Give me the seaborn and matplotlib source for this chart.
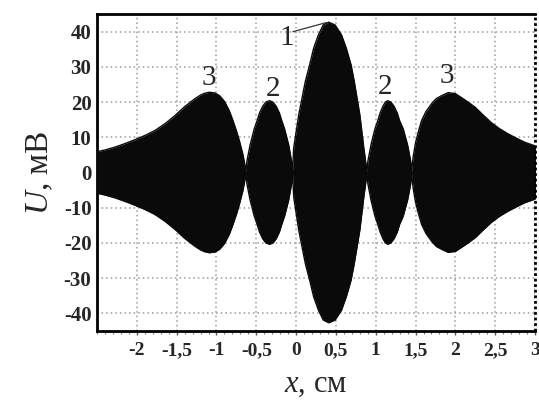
import numpy as np
import pandas as pd
import matplotlib
matplotlib.use("Agg")
import matplotlib.pyplot as plt
from matplotlib.ticker import MultipleLocator
import seaborn as sns

# upper edge of the signal envelope, lobe by lobe
lobe3_left_x = [-2.525, -2.4, -2.275, -2.15, -2.025, -1.9, -1.775, -1.65, -1.525, -1.4,
                -1.275, -1.2, -1.15, -1.09, -1.02, -0.96, -0.9, -0.84, -0.8, -0.75,
                -0.71, -0.67, -0.65]
lobe3_left_u = [5.75, 6.4, 7.2, 8.2, 9.3, 10.5, 11.9, 13.8, 16.1, 18.7,
                20.9, 22.0, 22.5, 22.8, 22.6, 21.8, 20.2, 17.6, 15.2, 11.9,
                8.8, 5.3, 3.0]
lobe2_left_x = [-0.63, -0.617, -0.578, -0.526, -0.49, -0.46, -0.42, -0.38, -0.335,
                -0.29, -0.25, -0.21, -0.18, -0.145, -0.093, -0.058]
lobe2_left_u = [0.3, 3.3, 7.8, 12.4, 14.7, 16.9, 18.8, 20.0, 20.4,
                20.0, 18.8, 16.9, 14.7, 12.4, 7.8, 3.3]
lobe1_x = [-0.045, -0.03, 0.033, 0.116, 0.17, 0.22, 0.28, 0.34, 0.41,
           0.49, 0.57, 0.63, 0.69, 0.73, 0.80, 0.85]
lobe1_u = [0.3, 7.0, 16.4, 25.9, 30.6, 35.3, 39.1, 41.9, 42.7,
           41.9, 39.1, 35.3, 30.6, 25.9, 16.4, 7.0]
lobe2_right_x = [0.89, 0.902, 0.94, 0.99, 1.025, 1.055, 1.09, 1.12, 1.15,
                 1.19, 1.23, 1.27, 1.30, 1.345, 1.40, 1.438]
lobe2_right_u = [0.3, 3.3, 7.8, 12.4, 14.7, 16.9, 18.8, 20.0, 20.4,
                 20.0, 18.8, 16.9, 14.7, 12.4, 7.8, 3.3]
lobe3_right_x = [1.45, 1.47, 1.5, 1.54, 1.575, 1.63, 1.7, 1.76, 1.825, 1.91, 2.0,
                 2.075, 2.16, 2.25, 2.35, 2.45, 2.55, 2.66, 2.77, 2.87, 3.02]
lobe3_right_u = [0.3, 4.5, 8.5, 12.0, 14.7, 17.3, 19.5, 21.0, 21.8, 22.7, 22.4,
                 21.3, 20.0, 18.5, 16.3, 14.2, 12.5, 11.0, 9.7, 8.6, 7.4]

# lobe numbers
lobe_text = ["3", "2", "1", "2", "3"]
lobe_x = [-1.09, -0.29, -0.12, 1.11, 1.89]
lobe_y = [26.8, 23.6, 38.2, 24.4, 27.4]

x_ticks = [-2, -1.5, -1, -0.5, 0, 0.5, 1, 1.5, 2, 2.5, 3]
x_tick_labels = ["-2", "-1,5", "-1", "-0,5", "0", "0,5", "1", "1,5", "2", "2,5", "3"]
y_ticks = [-40, -30, -20, -10, 0, 10, 20, 30, 40]
y_tick_labels = ["-40", "-30", "-20", "-10", "0", "10", "20", "30", "40"]

df = pd.DataFrame({
    "x": lobe3_left_x + lobe2_left_x + lobe1_x + lobe2_right_x + lobe3_right_x,
    "upper": lobe3_left_u + lobe2_left_u + lobe1_u + lobe2_right_u + lobe3_right_u,
})
df["lower"] = -df["upper"]

sns.set_style("white")
plt.rcParams["font.family"] = ["Liberation Serif", "DejaVu Serif"]
plt.rcParams["axes.unicode_minus"] = False
plt.rcParams["mathtext.fontset"] = "custom"
plt.rcParams["mathtext.rm"] = "Liberation Serif"
plt.rcParams["mathtext.it"] = "Liberation Serif:italic"

fig = plt.figure(figsize=(5.39, 4.03), dpi=100)
ax = fig.add_axes([0.18, 0.179, 0.8126, 0.786])

ax.fill_between(df["x"], df["lower"], df["upper"], color="#0a0a0a", lw=0, zorder=3)
sns.lineplot(x="x", y="upper", data=df, color="#0a0a0a", lw=1, ax=ax, zorder=3, sort=False)
sns.lineplot(x="x", y="lower", data=df, color="#0a0a0a", lw=1, ax=ax, zorder=3, sort=False)

ax.set_xlim(-2.5, 3)
ax.set_ylim(-45, 45)
ax.set_xticks(x_ticks)
ax.set_xticklabels(x_tick_labels)
ax.set_yticks(y_ticks)
ax.set_yticklabels(y_tick_labels)
ax.xaxis.set_minor_locator(MultipleLocator(0.1))
ax.tick_params(axis="x", which="major", length=3, width=1, color="#555555",
               labelsize=14, pad=5, bottom=True)
ax.tick_params(axis="x", which="minor", length=2, width=0.8, color="#777777", bottom=True)
ax.tick_params(axis="y", length=0, labelsize=15, pad=4)
for lab in ax.get_xticklabels() + ax.get_yticklabels():
    lab.set_fontweight("bold")

ax.grid(True, which="major", color="#9a9a9a", linestyle=(0, (1, 2)), linewidth=1.1)
ax.set_axisbelow(True)

for side in ["left", "top", "bottom"]:
    ax.spines[side].set_color("black")
    ax.spines[side].set_linewidth(2)
ax.spines["right"].set_visible(False)
ax.axvline(3, color="black", linestyle=(0, (1, 1)), lw=2, clip_on=False, zorder=4)

for t, tx, ty in zip(lobe_text, lobe_x, lobe_y):
    ax.text(tx, ty, t, fontsize=21, ha="center", va="center", zorder=5)
ax.plot([-0.04, 0.38], [40.0, 42.6], color="#333333", lw=0.9, zorder=5)

ax.set_xlabel("$x$, см", fontsize=22, labelpad=8)
ax.set_ylabel("$U$, мВ", fontsize=24, labelpad=6)

plt.savefig("out.png", dpi=100)
